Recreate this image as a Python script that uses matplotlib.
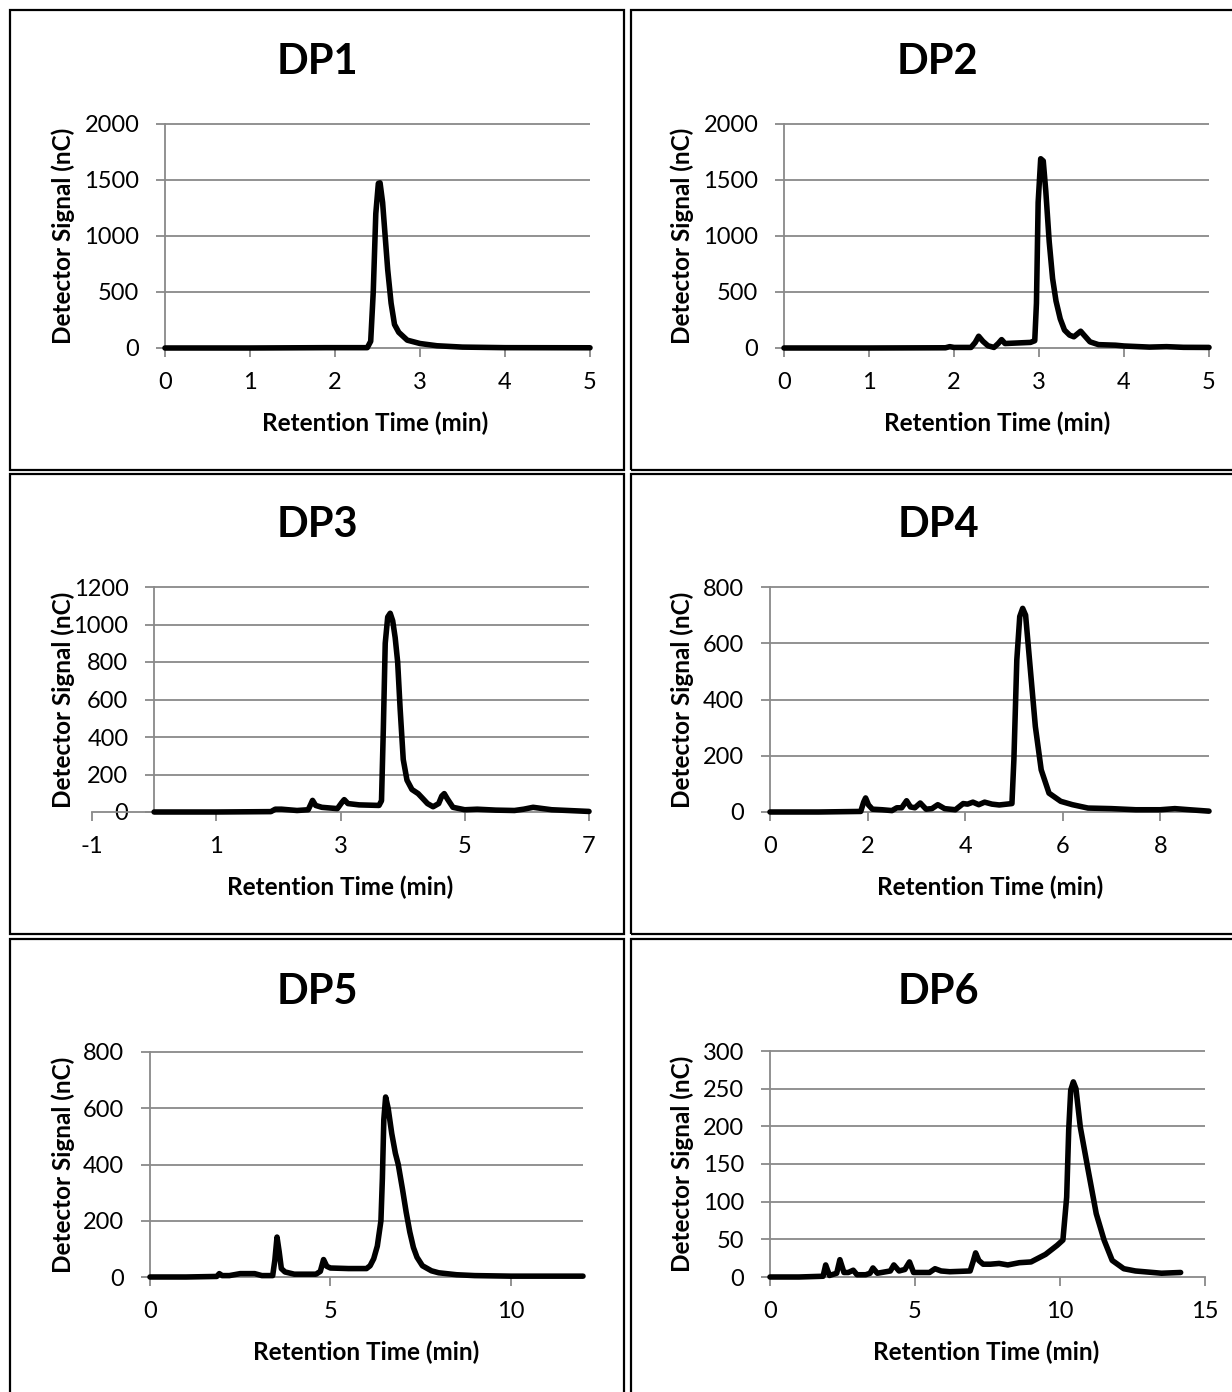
import matplotlib.pyplot as plt
from matplotlib.patches import Rectangle

plt.rcParams['font.family'] = ['Lato', 'DejaVu Sans']

# chromatogram traces (time in min, signal in nC)
dp1_time = [0, 1.0, 1.9, 2.38, 2.42, 2.45, 2.48, 2.51, 2.53, 2.56, 2.59, 2.62, 2.66, 2.7, 2.75, 2.85, 3.0, 3.2, 3.5, 4.0, 5.0]
dp1_signal = [0, 0, 3, 3, 60, 500, 1200, 1470, 1475, 1300, 1000, 700, 400, 210, 140, 70, 40, 20, 8, 3, 2]

dp2_time = [0, 1.0, 1.9, 1.95, 2.0, 2.2, 2.25, 2.29, 2.34, 2.4, 2.47, 2.52, 2.56, 2.6, 2.75, 2.9, 2.95, 2.97, 2.99,
            3.02, 3.05, 3.08, 3.12, 3.16, 3.2, 3.25, 3.3, 3.36, 3.41, 3.45, 3.49, 3.53, 3.6, 3.7, 3.9, 4.0, 4.3, 4.5, 4.7, 5.0]
dp2_signal = [0, 0, 2, 12, 5, 5, 50, 105, 60, 20, 5, 40, 75, 40, 45, 50, 65, 400, 1300,
              1690, 1670, 1400, 950, 620, 420, 260, 160, 115, 100, 125, 150, 115, 55, 30, 25, 18, 8, 12, 6, 5]

dp3_time = [0, 1.0, 1.88, 1.95, 2.05, 2.3, 2.48, 2.52, 2.55, 2.6, 2.7, 2.95, 3.02, 3.06, 3.12, 3.3, 3.62, 3.66, 3.69,
            3.72, 3.76, 3.8, 3.84, 3.88, 3.92, 3.96, 4.01, 4.07, 4.15, 4.25, 4.33, 4.4, 4.49, 4.58, 4.63, 4.67, 4.72,
            4.81, 5.0, 5.2, 5.5, 5.8, 5.95, 6.1, 6.4, 7.0]
dp3_signal = [0, 0, 2, 15, 15, 8, 12, 40, 62, 35, 25, 18, 50, 66, 45, 38, 35, 60, 450,
              900, 1040, 1060, 1020, 930, 800, 550, 280, 170, 120, 98, 70, 45, 28, 45, 85, 98, 70,
              25, 12, 15, 10, 8, 15, 25, 12, 3]

dp4_time = [0, 1.0, 1.86, 1.92, 1.96, 2.02, 2.1, 2.3, 2.5, 2.6, 2.7, 2.8, 2.88, 2.97, 3.08, 3.2, 3.32, 3.44, 3.58,
            3.8, 3.96, 4.05, 4.16, 4.28, 4.4, 4.55, 4.7, 4.96, 5.0, 5.06, 5.12, 5.18, 5.24, 5.32, 5.44, 5.56, 5.72,
            5.96, 6.2, 6.52, 7.0, 7.5, 8.0, 8.3, 8.6, 9.0]
dp4_signal = [0, 0, 2, 35, 50, 25, 10, 8, 5, 15, 15, 40, 18, 15, 32, 10, 12, 26, 12,
              8, 30, 28, 35, 26, 35, 28, 25, 30, 186, 541, 695, 724, 700, 541, 304, 150, 67,
              38, 26, 14, 12, 8, 8, 12, 8, 3]

dp5_time = [0, 1.0, 1.85, 1.92, 2.0, 2.2, 2.5, 2.9, 3.1, 3.4, 3.46, 3.52, 3.58, 3.64, 3.74, 4.0, 4.6, 4.72, 4.81,
            4.9, 5.0, 5.5, 6.0, 6.1, 6.2, 6.3, 6.4, 6.44, 6.48, 6.53, 6.6, 6.7, 6.8, 6.88, 7.0, 7.1, 7.2, 7.3, 7.4,
            7.55, 7.8, 8.0, 8.5, 9.0, 10.0, 12.0]
dp5_signal = [0, 0, 2, 12, 5, 5, 12, 12, 5, 5, 60, 142, 90, 30, 18, 10, 10, 20, 62,
              38, 32, 30, 30, 40, 65, 110, 200, 350, 560, 640, 600, 510, 440, 400, 310, 230, 160, 105, 70,
              40, 22, 15, 8, 5, 3, 3]

dp6_time = [0, 1.0, 1.83, 1.92, 2.05, 2.3, 2.41, 2.55, 2.7, 2.87, 3.0, 3.3, 3.45, 3.55, 3.7, 4.15, 4.27, 4.45,
            4.65, 4.81, 4.95, 5.5, 5.69, 5.9, 6.2, 6.9, 7.0, 7.09, 7.2, 7.35, 7.6, 7.9, 8.2, 8.6, 9.0, 9.5, 9.9,
            10.1, 10.23, 10.3, 10.37, 10.46, 10.55, 10.7, 10.97, 11.25, 11.52, 11.8, 12.2, 12.6, 13.5, 14.16]
dp6_signal = [0, 0, 1, 16, 2, 5, 23, 6, 6, 9, 3, 3, 5, 12, 5, 8, 16, 8,
              10, 20, 6, 6, 11, 8, 7, 8, 20, 32, 22, 17, 17, 18, 16, 19, 20, 30, 42,
              49, 106, 195, 248, 259, 250, 199, 142, 84, 49, 22, 11, 8, 5, 6]

titles = ['DP1', 'DP2', 'DP3', 'DP4', 'DP5', 'DP6']
traces = [(dp1_time, dp1_signal), (dp2_time, dp2_signal), (dp3_time, dp3_signal),
          (dp4_time, dp4_signal), (dp5_time, dp5_signal), (dp6_time, dp6_signal)]
x_ranges = [(0, 5), (0, 5), (-1, 7), (0, 9), (0, 12), (0, 15)]
x_ticks = [[0, 1, 2, 3, 4, 5], [0, 1, 2, 3, 4, 5], [-1, 1, 3, 5, 7], [0, 2, 4, 6, 8], [0, 5, 10], [0, 5, 10, 15]]
y_ranges = [(0, 2000), (0, 2000), (0, 1200), (0, 800), (0, 800), (0, 300)]
y_steps = [500, 500, 200, 200, 200, 50]

W, H = 1232, 1392
fig = plt.figure(figsize=(W / 100, H / 100), dpi=100)
GRID = '#898989'

# pixel layout: plot left, right, top, bottom, title x, title y, xlabel x, xlabel y, ylabel x
layout = [
    (165, 590, 124, 348, 317, 62, 375, 423, 63),
    (784, 1209, 124, 348, 937, 62, 997, 423, 682),
    (92, 589, 587, 812, 317, 525, 340, 887, 63),
    (770, 1209, 587, 812, 938, 525, 990, 887, 682),
    (150, 583, 1052, 1277, 317, 992, 366, 1352, 63),
    (770, 1205, 1051, 1277, 938, 992, 986, 1352, 682),
]

# panel frames
for x0, x1 in [(10, 624), (631, 1240)]:
    for y0, y1 in [(10, 470), (474, 934), (939, 1400)]:
        fig.add_artist(Rectangle((x0 / W, 1 - y1 / H), (x1 - x0) / W, (y1 - y0) / H,
                                 transform=fig.transFigure, fill=False, ec='black', lw=1.6))

for i in range(6):
    l, r, t, b, tx, ty, lx, ly, yx = layout[i]
    ax = fig.add_axes([l / W, 1 - b / H, (r - l) / W, (b - t) / H])
    xs, ys = traces[i]
    ymin, ymax = y_ranges[i]
    yt = list(range(ymin, ymax + 1, y_steps[i]))

    ax.set_xlim(*x_ranges[i])
    ax.set_ylim(ymin, ymax)
    ax.set_xticks(x_ticks[i])
    ax.set_yticks(yt)
    ax.set_xticklabels([str(v) for v in x_ticks[i]])

    for s in ['top', 'right']:
        ax.spines[s].set_visible(False)
    for s in ['left', 'bottom']:
        ax.spines[s].set_color(GRID)
        ax.spines[s].set_linewidth(1.3)
    if x_ranges[i][0] < 0:
        ax.spines['left'].set_position(('data', 0))
    ax.hlines(yt[1:], 0, x_ranges[i][1], color=GRID, lw=1.3, zorder=1, clip_on=False)

    ax.tick_params(axis='both', colors=GRID, labelcolor='black', labelsize=17, width=1.3, length=6.5)
    ax.tick_params(axis='x', pad=11)
    ax.tick_params(axis='y', pad=12)

    ax.plot(xs, ys, color='black', lw=4.0, solid_joinstyle='round', solid_capstyle='round',
            zorder=3, clip_on=False)

    ax.set_xlabel('Retention Time (min)', fontsize=17.5, fontweight='bold')
    ax.xaxis.set_label_coords(lx / W, 1 - ly / H, transform=fig.transFigure)
    ax.set_ylabel('Detector Signal (nC)', fontsize=17.5, fontweight='bold')
    ax.yaxis.set_label_coords(yx / W, 1 - (t + b) / 2 / H, transform=fig.transFigure)
    ax.xaxis.label.set_va('center')
    ax.yaxis.label.set_va('center')

    fig.text(tx / W, 1 - ty / H, titles[i], fontsize=30, fontweight='bold', ha='center', va='center')

fig.savefig('out.png', dpi=100)
